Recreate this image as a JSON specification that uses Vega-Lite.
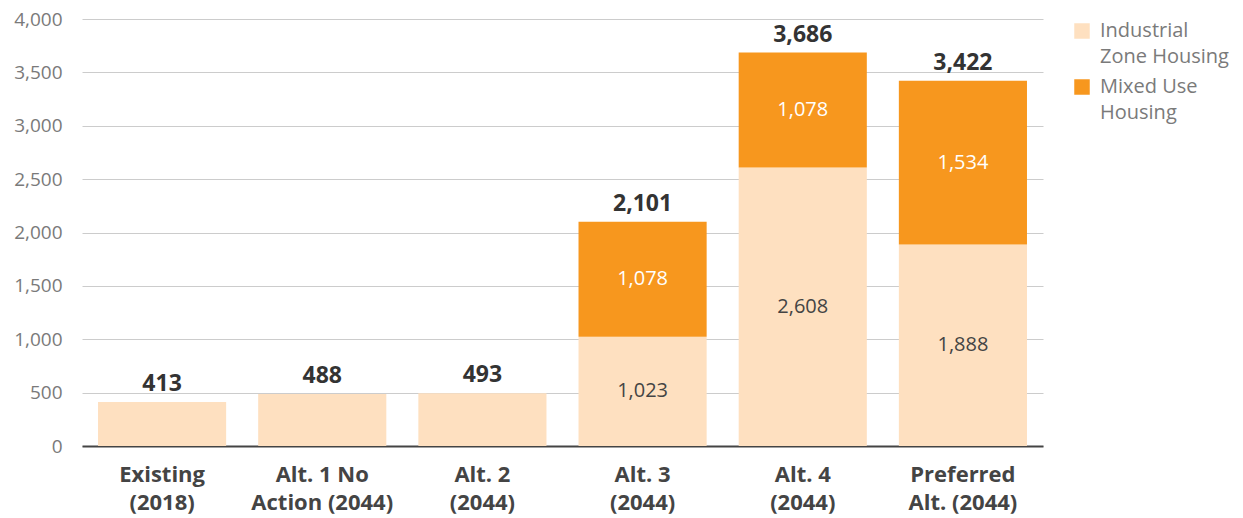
{
  "$schema": "https://vega.github.io/schema/vega-lite/v6.json",
  "width": 961,
  "height": 427,
  "autosize": "none",
  "padding": {"left": 82, "top": 19, "right": 200, "bottom": 72},
  "background": "white",
  "config": {
    "font": "Open Sans",
    "view": {"stroke": null},
    "style": {"guide-label": {"lineHeight": 26}},
    "axisY": {
      "title": null,
      "format": ",.0f",
      "domain": false,
      "ticks": false,
      "labelPadding": 20,
      "labelFontSize": 19,
      "labelColor": "#7a7a7a",
      "gridColor": "#cccccc",
      "gridWidth": 1,
      "zindex": 1
    }
  },
  "data": {
    "values": [
      {"scenario": "Existing|(2018)", "type": "Industrial Zone Housing", "value": 413},
      {"scenario": "Alt. 1 No|Action (2044)", "type": "Industrial Zone Housing", "value": 488},
      {"scenario": "Alt. 2|(2044)", "type": "Industrial Zone Housing", "value": 493},
      {"scenario": "Alt. 3|(2044)", "type": "Industrial Zone Housing", "value": 1023},
      {"scenario": "Alt. 3|(2044)", "type": "Mixed Use Housing", "value": 1078},
      {"scenario": "Alt. 4|(2044)", "type": "Industrial Zone Housing", "value": 2608},
      {"scenario": "Alt. 4|(2044)", "type": "Mixed Use Housing", "value": 1078},
      {"scenario": "Preferred|Alt. (2044)", "type": "Industrial Zone Housing", "value": 1888},
      {"scenario": "Preferred|Alt. (2044)", "type": "Mixed Use Housing", "value": 1534}
    ]
  },
  "encoding": {
    "x": {
      "field": "scenario",
      "type": "nominal",
      "sort": null,
      "scale": {"paddingInner": 0.2, "paddingOuter": 0.1},
      "axis": {
        "title": null,
        "labelAngle": 0,
        "labelExpr": "split(datum.label, '|')",
        "labelFont": "Open Sans",
        "labelFontSize": 22,
        "labelFontWeight": "bold",
        "labelColor": "#444444",
        "labelLineHeight": 28,
        "labelPadding": 28,
        "labelBaseline": "middle",
        "ticks": false,
        "domainColor": "#444444",
        "domainWidth": 2,
        "grid": false
      }
    }
  },
  "layer": [
    {
      "mark": {"type": "bar"},
      "encoding": {
        "y": {
          "field": "value",
          "type": "quantitative",
          "stack": "zero",
          "scale": {"domain": [0, 4000]},
          "axis": {"values": [0, 500, 1000, 1500, 2000, 2500, 3000, 3500, 4000], "format": ",.0f"}
        },
        "color": {
          "field": "type",
          "type": "nominal",
          "scale": {
            "domain": ["Industrial Zone Housing", "Mixed Use Housing"],
            "range": ["#FEE0C0", "#F7971E"]
          },
          "legend": {
            "title": null,
            "orient": "none",
            "legendX": 990,
            "legendY": 2,
            "symbolType": "square",
            "symbolSize": 240,
            "symbolStrokeWidth": 0,
            "labelFontSize": 20,
            "labelColor": "#7a7a7a",
            "labelExpr": "datum.label == 'Industrial Zone Housing' ? ['Industrial', 'Zone Housing'] : ['Mixed Use', 'Housing']",
            "labelOffset": 8,
            "rowPadding": 10,
            "labelLimit": 200
          }
        },
        "order": {"field": "type", "sort": "ascending"}
      }
    },
    {
      "transform": [
        {"stack": "value", "groupby": ["scenario"], "sort": [{"field": "type", "order": "ascending"}], "as": ["v0", "v1"]},
        {"calculate": "(datum.v0 + datum.v1) / 2", "as": "mid"},
        {"filter": "datum.value > 900"}
      ],
      "mark": {"type": "text", "fontSize": 20, "baseline": "middle"},
      "encoding": {
        "y": {
          "field": "mid",
          "type": "quantitative",
          "axis": {"values": [0, 500, 1000, 1500, 2000, 2500, 3000, 3500, 4000], "format": ",.0f"}
        },
        "text": {"field": "value", "type": "quantitative", "format": ",.0f"},
        "color": {
          "condition": {"test": "datum.type == 'Mixed Use Housing'", "value": "#ffffff"},
          "value": "#444444"
        }
      }
    },
    {
      "transform": [
        {"aggregate": [{"op": "sum", "field": "value", "as": "total"}], "groupby": ["scenario"]}
      ],
      "mark": {"type": "text", "fontSize": 23, "fontWeight": "bold", "color": "#333333", "baseline": "bottom", "dy": -6},
      "encoding": {
        "y": {
          "field": "total",
          "type": "quantitative",
          "axis": {"values": [0, 500, 1000, 1500, 2000, 2500, 3000, 3500, 4000], "format": ",.0f"}
        },
        "text": {"field": "total", "type": "quantitative", "format": ",.0f"}
      }
    }
  ]
}
